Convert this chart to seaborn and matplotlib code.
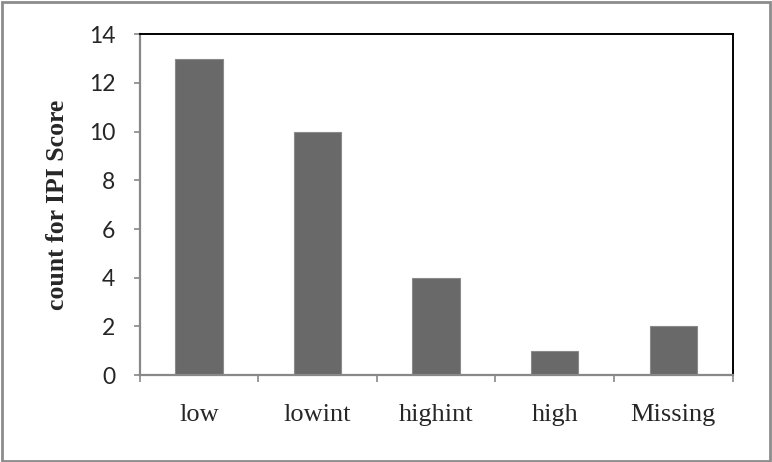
import matplotlib
matplotlib.use("Agg")
import matplotlib.pyplot as plt
import seaborn as sns
import pandas as pd
from matplotlib.patches import Rectangle
from matplotlib.ticker import FixedLocator

# data
categories = ["low", "lowint", "highint", "high", "Missing"]
counts = [13, 10, 4, 1, 2]
y_ticks = [0, 2, 4, 6, 8, 10, 12, 14]

df = pd.DataFrame({"group": categories, "count": counts})

sns.set_style("white")
plt.rcParams['font.family'] = ['Liberation Serif', 'DejaVu Serif']

fig = plt.figure(figsize=(7.72, 4.62), dpi=100)
ax = fig.add_axes([0.181, 0.188, 0.768, 0.738])

sns.barplot(data=df, x="group", y="count", color="#696969", width=0.4,
            saturation=1, edgecolor="#8a8a8a", linewidth=0.8, ax=ax)

ax.set_ylim(0, 14)
ax.set_xlim(-0.5, len(categories) - 0.5)
ax.set_yticks(y_ticks)
ax.set_yticklabels([str(t) for t in y_ticks], family="Lato", fontsize=16.5)
ax.tick_params(axis="y", direction="out", length=4.5, width=1.2, color="#888888", pad=13, left=True)

# category labels at centres, tick marks at the boundaries
ax.tick_params(axis="x", which="major", length=0, pad=21, labelsize=19)
ax.xaxis.set_minor_locator(FixedLocator([i - 0.5 for i in range(len(categories) + 1)]))
ax.tick_params(axis="x", which="minor", direction="out", length=5, width=1.2, color="#888888", bottom=True)

ax.set_xlabel("")
ax.set_ylabel("count for IPI Score", fontsize=18.5, fontweight="bold")
ax.yaxis.set_label_coords(-0.12, 0.5)

for s in ["left", "bottom"]:
    ax.spines[s].set_color("#888888")
    ax.spines[s].set_linewidth(1.6)
for s in ["top", "right"]:
    ax.spines[s].set_color("black")
    ax.spines[s].set_linewidth(1.4)
    ax.spines[s].set_visible(True)

# grey frame round the whole chart
fig.patches.append(Rectangle((0.002, 0.002), 0.996, 0.994, transform=fig.transFigure,
                             fill=False, edgecolor="#8c8c8c", linewidth=2))

fig.savefig("out.png", dpi=100)
